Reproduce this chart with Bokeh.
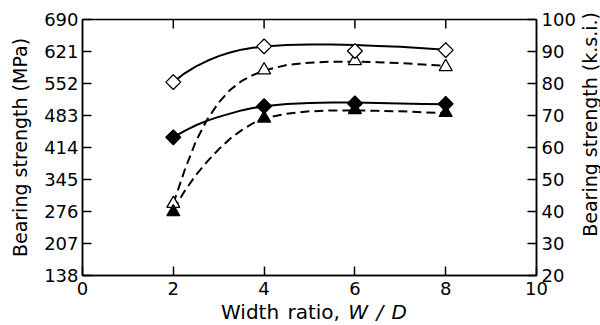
from bokeh.plotting import figure
from bokeh.models import LinearAxis, Range1d, FixedTicker, Div
from bokeh.layouts import column, row
from bokeh.embed import file_html
from bokeh.resources import INLINE
import numpy as np

# measured points (MPa) at width ratio W/D
width_ratio = [2, 4, 6, 8]
open_diamond = [555, 632, 622, 624]
filled_diamond = [436, 503, 509, 508]
open_triangle = [293, 581, 601, 588]
filled_triangle = [275, 477, 495, 489]

# fitted curves
curve_x = [2, 2.25, 2.5, 2.75, 3, 3.25, 3.5, 3.75, 4, 4.5, 5, 5.5, 6, 6.5, 7, 7.5, 8]
curve_open_diamond = [555, 574, 589, 601, 611, 619, 625, 629, 632, 635, 636, 636, 635, 633, 631, 628, 625]
curve_open_triangle = [293, 365, 428, 475, 511, 538, 557, 570, 580, 592, 597, 599, 599, 598, 596, 593, 590]
curve_filled_diamond = [436, 450, 462, 472, 480, 487, 494, 499, 503, 508, 510, 511, 511, 510, 509, 508, 507]
curve_filled_triangle = [280, 320, 355, 384, 410, 433, 451, 466, 477, 487, 492, 494, 494, 493, 492, 490, 488]

x_ticks = [0, 2, 4, 6, 8, 10]
mpa_ticks = [138, 207, 276, 345, 414, 483, 552, 621, 690]
ksi_ticks = [20, 30, 40, 50, 60, 70, 80, 90, 100]

FONT = "DejaVu Sans"
FIG_W = 578
RIGHT_W = 22
FIG_H = 302
DIV_H = 23

p = figure(width=FIG_W, height=FIG_H, output_backend="svg", toolbar_location=None,
           x_range=Range1d(x_ticks[0], x_ticks[-1]),
           y_range=Range1d(mpa_ticks[0], mpa_ticks[-1]),
           min_border_left=82, min_border_right=42, min_border_top=19,
           min_border_bottom=27)
p.extra_y_ranges = {"ksi": Range1d(ksi_ticks[0], ksi_ticks[-1])}
p.grid.visible = False
p.outline_line_color = "black"
p.outline_line_width = 1.5
p.background_fill_color = "white"
p.border_fill_color = "white"

def style(ax):
    ax.major_tick_in = 9
    ax.major_tick_out = 0
    ax.minor_tick_line_color = None
    ax.axis_line_color = "black"
    ax.axis_line_width = 1.5
    ax.major_tick_line_color = "black"
    ax.major_tick_line_width = 1.5
    ax.major_label_text_font = FONT
    ax.major_label_text_font_size = "18px"
    ax.major_label_text_color = "black"
    ax.axis_label_text_font = FONT
    ax.axis_label_text_font_size = "19px"
    ax.axis_label_text_font_style = "normal"
    ax.axis_label_text_color = "black"

xa = p.xaxis[0]
xa.ticker = FixedTicker(ticks=x_ticks)
style(xa)
xa.major_label_standoff = 6

ya = p.yaxis[0]
ya.ticker = FixedTicker(ticks=mpa_ticks)
style(ya)
ya.major_label_standoff = 4
ya.axis_label = "Bearing strength (MPa)"
ya.axis_label_standoff = 10

right = LinearAxis(y_range_name="ksi", ticker=FixedTicker(ticks=ksi_ticks))
style(right)
right.major_label_standoff = 5
p.add_layout(right, "right")

# inward ticks on the top edge (half of each dash is clipped by the frame)
top_x = x_ticks[1:-1]
p.scatter(top_x, [mpa_ticks[-1]] * len(top_x), marker="dash", angle=np.pi / 2,
          size=18, line_color="black", line_width=1.5)

# curves
p.line(curve_x, curve_open_diamond, line_color="black", line_width=2)
p.line(curve_x, curve_filled_diamond, line_color="black", line_width=2)
p.line(curve_x, curve_open_triangle, line_color="black", line_width=2, line_dash="9 5")
p.line(curve_x, curve_filled_triangle, line_color="black", line_width=2, line_dash="9 5")

# markers
p.scatter(width_ratio, open_triangle, marker="triangle", size=13,
          fill_color="white", line_color="black", line_width=1.3)
p.scatter(width_ratio, filled_triangle, marker="triangle", size=13,
          fill_color="black", line_color="black", line_width=1.3)
p.scatter(width_ratio, open_diamond, marker="square", angle=np.pi / 4, size=10.5,
          fill_color="white", line_color="black", line_width=1.3)
p.scatter(width_ratio, filled_diamond, marker="square", angle=np.pi / 4, size=10.5,
          fill_color="black", line_color="black", line_width=1.3)

# x-axis title with italic W / D (HTML text below the plot)
xtitle = Div(text="Width ratio, <i>W&nbsp;/&nbsp;D</i>", width=FIG_W, height=DIV_H,
             margin=(0, 0, 0, 0),
             styles={"font-family": FONT, "font-size": "20px", "color": "black",
                     "text-align": "center", "padding-left": "50px",
                     "word-spacing": "2px",
                     "line-height": "20px", "box-sizing": "border-box"})

# right axis title, reading bottom to top
rtitle = Div(text=('<div style="writing-mode: vertical-rl; transform: rotate(180deg); '
                   'white-space: nowrap; line-height: 22px; margin-top: 12px; '
                   'margin-left: 1px; font-family: \'DejaVu Sans\'; font-size: 19px; '
                   'color: black;">Bearing strength (k.s.i.)</div>'),
             width=RIGHT_W, height=FIG_H + DIV_H, margin=(0, 0, 0, 0))

layout = row(column(p, xtitle, spacing=0), rtitle, spacing=0)
open("out.html", "w").write(file_html(layout, INLINE))
